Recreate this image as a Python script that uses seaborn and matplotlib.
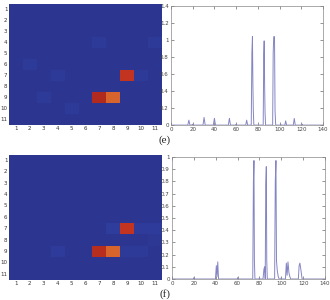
import numpy as np
import matplotlib
matplotlib.use("Agg")
import matplotlib.pyplot as plt
import seaborn as sns
from matplotlib.colors import LinearSegmentedColormap
from matplotlib.ticker import FormatStrFormatter

# heatmap cells (row, col, value), 1-based; rest of grid is 0
GRID = 11
cells_e_rows = [7, 9, 9, 4, 4, 6, 7, 7, 9, 10]
cells_e_cols = [9, 7, 8, 7, 11, 2, 4, 10, 3, 5]
cells_e_vals = [0.9, 0.95, 0.8, 0.025, 0.025, 0.025, 0.02, 0.02, 0.02, 0.02]

cells_f_rows = [7, 9, 9, 7, 7, 7, 8, 9, 9, 9]
cells_f_cols = [9, 7, 8, 8, 10, 11, 11, 4, 9, 10]
cells_f_vals = [0.9, 0.93, 0.8, 0.035, 0.03, 0.03, 0.015, 0.03, 0.025, 0.025]

# spectra (e)
spec_e_x = [0, 15.5, 16.5, 17.5, 19.3, 19.7, 20.1, 29.5, 30.5, 31.5, 39, 40, 41,
            52.8, 53.8, 54.8, 59.7, 60, 60.3, 68.8, 69.7, 70.6,
            73.9, 74.5, 75, 75.4, 75.8, 76.3,
            84.9, 85.4, 85.8, 86.2, 86.6, 87.1,
            93.6, 94.1, 94.6, 95.3, 95.8, 96.4,
            100.7, 101, 101.3, 104.8, 105.6, 106.4, 112.6, 113.5, 114.4,
            120.7, 121, 121.3, 140]
spec_e_y = [0, 0, 0.058, 0, 0, 0.01, 0, 0, 0.09, 0, 0, 0.08, 0,
            0, 0.08, 0, 0, 0.01, 0, 0, 0.058, 0,
            0, 0.85, 1.04, 0.5, 0.17, 0,
            0, 0.82, 0.99, 0.48, 0.15, 0,
            0, 0.85, 1.04, 1.04, 0.17, 0,
            0, 0.01, 0, 0, 0.05, 0, 0, 0.078, 0,
            0, 0.01, 0, 0]

# spectra (f)
spec_f_x = [0, 19.7, 20, 20.3, 39.8, 40.6, 41.2, 41.9, 42.6,
            59.7, 60, 60.3, 73.9, 74.5, 75, 75.4, 75.9,
            79.7, 80, 80.3, 83.3, 84.1, 84.8, 85.3, 85.8, 86.3, 86.7, 87.2,
            93.9, 94.5, 95.1, 95.6, 96.3, 97.2, 98, 99.7, 100, 100.3,
            103.8, 104.6, 105.3, 106.1, 107, 107.8, 108.6,
            115.6, 116.3, 117, 118, 119, 140]
spec_f_y = [0, 0, 0.01, 0, 0, 0.11, 0.02, 0.14, 0,
            0, 0.01, 0, 0, 0.8, 0.97, 0.15, 0,
            0, 0.01, 0, 0, 0.08, 0.1, 0, 0.77, 0.92, 0.15, 0,
            0, 0.8, 0.97, 0.15, 0.07, 0.02, 0, 0, 0.01, 0,
            0, 0.13, 0.03, 0.14, 0.05, 0.02, 0,
            0, 0.11, 0.13, 0.07, 0, 0]

ticks_e_y = [0, 0.2, 0.4, 0.6, 0.8, 1.0, 1.2, 1.4]
ticks_f_y = [0, 0.1, 0.2, 0.3, 0.4, 0.5, 0.6, 0.7, 0.8, 0.9, 1.0]
ticks_x = [0, 20, 40, 60, 80, 100, 120, 140]

sns.set_theme(style="white")
plt.rcParams['font.family'] = ['DejaVu Sans']

cmap = LinearSegmentedColormap.from_list("mjet", [
    (0.0, "#2c3691"), (0.1, "#3248b0"), (0.35, "#3c96c8"), (0.5, "#78be96"),
    (0.65, "#c8c846"), (0.8, "#d7642d"), (0.9, "#c33420"), (1.0, "#a0231c")])

LINE = "#8585c4"
FS = 4


def grid_from(rows, cols, vals):
    m = np.zeros((GRID, GRID))
    for r, c, v in zip(rows, cols, vals):
        m[r - 1, c - 1] = v
    return m


def draw_heat(ax, rows, cols, vals):
    labels = list(range(1, GRID + 1))
    sns.heatmap(grid_from(rows, cols, vals), ax=ax, cmap=cmap, vmin=0, vmax=1,
                cbar=False, xticklabels=labels, yticklabels=labels)
    ax.tick_params(labelsize=FS, length=0, pad=1, colors="#333333")
    ax.set_yticklabels(labels, rotation=0)
    ax.set_xticklabels(labels, rotation=0)


def draw_spec(ax, xs, ys, ymax, yt):
    sns.lineplot(x=xs, y=ys, ax=ax, color=LINE, lw=0.7, estimator=None, sort=False)
    ax.set_xlim(0, 140)
    ax.set_ylim(0, ymax)
    ax.set_xticks(ticks_x)
    ax.set_yticks(yt)
    ax.yaxis.set_major_formatter(FormatStrFormatter('%g'))
    ax.tick_params(labelsize=FS, direction="in", length=2, width=0.4, pad=1.5,
                   top=True, right=True, bottom=True, left=True, colors="#444444")
    for s in ax.spines.values():
        s.set_color("#888888")
        s.set_linewidth(0.5)


fig = plt.figure(figsize=(3.3, 3.0), dpi=100)
ax1 = fig.add_axes([0.027, 0.583, 0.464, 0.403])
ax2 = fig.add_axes([0.518, 0.583, 0.461, 0.397])
ax3 = fig.add_axes([0.027, 0.067, 0.464, 0.417])
ax4 = fig.add_axes([0.521, 0.070, 0.464, 0.407])

draw_heat(ax1, cells_e_rows, cells_e_cols, cells_e_vals)
draw_heat(ax3, cells_f_rows, cells_f_cols, cells_f_vals)
draw_spec(ax2, spec_e_x, spec_e_y, 1.4, ticks_e_y)
draw_spec(ax4, spec_f_x, spec_f_y, 1.0, ticks_f_y)

fig.text(0.5, 0.533, "(e)", ha="center", va="center", fontsize=8,
         family="Liberation Serif")
fig.text(0.5, 0.02, "(f)", ha="center", va="center", fontsize=8,
         family="Liberation Serif")

fig.savefig("out.png", dpi=100)
